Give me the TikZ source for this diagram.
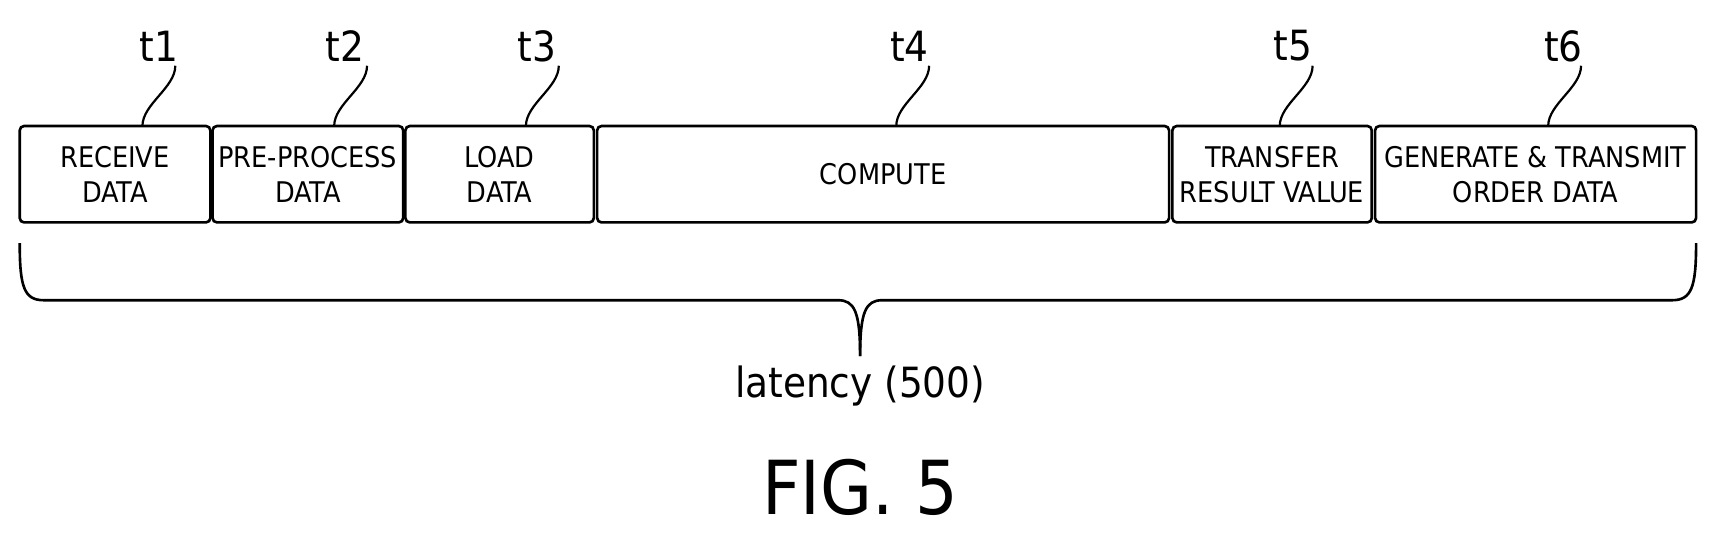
\documentclass[tikz,border=0pt]{standalone}
\usepackage{fontspec}
\setmainfont{DejaVu Sans Condensed}
\usetikzlibrary{positioning}
\begin{document}
\begin{tikzpicture}[x=0.5pt,y=-0.5pt,
  stage/.style={draw, line width=1.2pt, rounded corners=2pt, minimum height=44pt, inner sep=0pt, align=center, font=\fontsize{13}{16}\selectfont},
  tlabel/.style={font=\fontsize{19}{20}\selectfont, inner sep=0pt},
  leader/.style={line width=1pt}]
        \useasboundingbox (0,0) rectangle (1568,493);

        % stages
        \node[stage, minimum width=87pt] (recv) at (105,159) {RECEIVE\\DATA};
        \node[stage, minimum width=87pt] (prep) at (281,159) {PRE-PROCESS\\DATA};
        \node[stage, minimum width=86pt] (load) at (456,159) {LOAD\\DATA};
        \node[stage, minimum width=261pt] (comp) at (806,159) {COMPUTE};
        \node[stage, minimum width=91pt] (xfer) at (1161,159) {TRANSFER\\RESULT VALUE};
        \node[stage, minimum width=146.5pt] (gen) at (1401.5,159) {GENERATE \& TRANSMIT\\ORDER DATA};

        % time labels
        \node[tlabel] (t1) at (145,42) {t1};
        \node[tlabel] (t2) at (315,42) {t2};
        \node[tlabel] (t3) at (490,42) {t3};
        \node[tlabel] (t4) at (830,42) {t4};
        \node[tlabel] (t5) at (1180,42) {t5};
        \node[tlabel] (t6) at (1427,42) {t6};

        % leaders
        \foreach \b/\t/\x in {recv/t1/130, prep/t2/305, load/t3/480, comp/t4/818, xfer/t5/1168, gen/t6/1413}{
          \coordinate (\b-top) at (\x,115);
          \draw[leader] (\b-top) .. controls (\x,95) and (\x+30,80) .. (\x+30,60);
        }

        % brace
        \coordinate (bl) at (18,222);
        \coordinate (br) at (1548,222);
        \coordinate (tip) at (785,325);
        \draw[line width=1.2pt] (bl) .. controls (18,262) and (22,274) .. (40,274) -- (765,274)
          .. controls (780,274) and (785,285) .. (tip);
        \draw[line width=1.2pt] (br) .. controls (1548,262) and (1544,274) .. (1526,274) -- (805,274)
          .. controls (790,274) and (785,285) .. (tip);

        \node[font=\fontsize{19}{22}\selectfont, inner sep=0pt] (lat) at (785,352) {latency (500)};
        \node[font=\fontsize{34}{40}\selectfont, inner sep=0pt] (fig) at (785,445) {FIG. 5};
\end{tikzpicture}
\end{document}
